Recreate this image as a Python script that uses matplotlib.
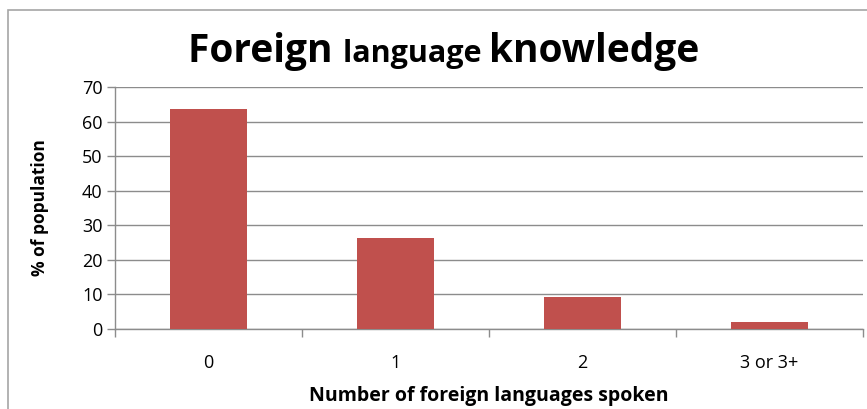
import matplotlib
matplotlib.use('Agg')
import matplotlib.pyplot as plt
from matplotlib.patches import Rectangle

matplotlib.rcParams['font.family'] = 'Open Sans'

categories = ['0', '1', '2', '3 or 3+']
values = [63.5, 26.2, 9.3, 2.0]
yticks = [0, 10, 20, 30, 40, 50, 60, 70]

bar_color = '#C0504D'
grid_color = '#8C8C8C'

W, H = 867, 409
fig = plt.figure(figsize=(W / 100, H / 100), dpi=100)

# outer chart frame (cut off at right/bottom like the screenshot)
fig.patches.append(Rectangle((8 / W, -0.05), 1.0, 1 - 10 / H + 0.05,
                             transform=fig.transFigure, fill=False,
                             edgecolor='#A6A6A6', lw=1.2))

ax = fig.add_axes([115 / W, 1 - 329 / H, (863 - 115) / W, (329 - 87) / H])
x = range(len(categories))
ax.bar(x, values, width=0.41, color=bar_color, zorder=3)
ax.set_xlim(-0.5, len(categories) - 0.5)
ax.set_ylim(0, 70)
ax.set_yticks(yticks)
ax.yaxis.grid(True, color=grid_color, lw=1.0, zorder=0)

for s in ['top', 'right']:
    ax.spines[s].set_visible(False)
for s in ['left', 'bottom']:
    ax.spines[s].set_color(grid_color)
    ax.spines[s].set_linewidth(1.0)

ax.set_xticks(x)
ax.set_xticklabels(categories, fontsize=13)
ax.set_xticks([i - 0.5 for i in range(len(categories) + 1)], minor=True)
ax.tick_params(axis='x', which='major', length=0, pad=18)
ax.tick_params(axis='x', which='minor', length=6, color=grid_color, width=1)
ax.tick_params(axis='y', length=6, color=grid_color, width=1, labelsize=13, pad=3)

ax.set_ylabel('% of population', fontsize=12.5, fontweight='bold',
              fontstretch='condensed', labelpad=24)
ax.set_xlabel('Number of foreign languages spoken', fontsize=14,
              fontweight='bold', labelpad=10)

# title with mixed sizes
parts = [('Foreign ', 28), ('language ', 22), ('knowledge', 28)]
fig.canvas.draw()
r = fig.canvas.get_renderer()
texts = []
widths = []
for s, fs in parts:
    t = fig.text(0, 0, s, fontsize=fs, fontweight='bold', va='baseline', ha='left')
    widths.append(t.get_window_extent(r).width)
    texts.append(t)
total = sum(widths)
x0 = 444 - total / 2
base = 1 - 62 / H
for t, w in zip(texts, widths):
    t.set_position((x0 / W, base))
    x0 += w

fig.savefig('out.png', dpi=100)
